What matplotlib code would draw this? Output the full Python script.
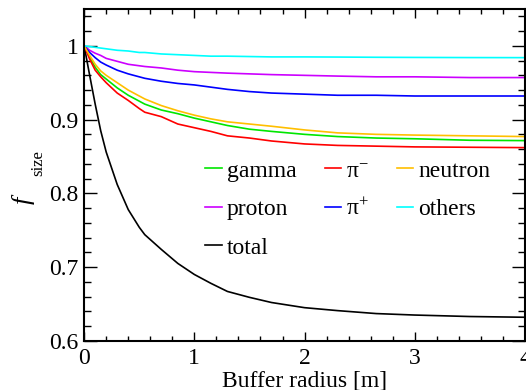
import matplotlib
matplotlib.use('Agg')
from matplotlib import pyplot as plt
from matplotlib.ticker import MultipleLocator

plt.rcParams['font.family'] = 'Liberation Serif'
plt.rcParams['mathtext.fontset'] = 'custom'
plt.rcParams['mathtext.rm'] = 'Liberation Serif'
plt.rcParams['mathtext.it'] = 'Liberation Serif:italic'

radius = [0, 0.05, 0.1, 0.15, 0.2, 0.3, 0.4, 0.5, 0.55, 0.7, 0.85, 1.0, 1.15,
          1.3, 1.5, 1.7, 2.0, 2.3, 2.65, 3.0, 3.5, 4.0]

gamma = [1.0, 0.985, 0.971, 0.961, 0.955, 0.943, 0.933, 0.925, 0.921, 0.913, 0.908,
         0.902, 0.897, 0.892, 0.887, 0.884, 0.880, 0.877, 0.875, 0.874, 0.872, 0.8715]
pi_minus = [1.0, 0.982, 0.967, 0.958, 0.950, 0.936, 0.926, 0.915, 0.910, 0.904, 0.894,
            0.889, 0.884, 0.878, 0.875, 0.871, 0.867, 0.865, 0.864, 0.863, 0.8625, 0.862]
neutron = [1.0, 0.987, 0.975, 0.966, 0.960, 0.950, 0.940, 0.932, 0.928, 0.919, 0.912,
           0.906, 0.901, 0.897, 0.894, 0.891, 0.886, 0.882, 0.880, 0.879, 0.878, 0.877]
proton = [1.0, 0.994, 0.990, 0.987, 0.983, 0.979, 0.975, 0.973, 0.972, 0.970, 0.967,
          0.965, 0.964, 0.963, 0.962, 0.961, 0.960, 0.959, 0.958, 0.958, 0.957, 0.957]
pi_plus = [1.0, 0.991, 0.984, 0.978, 0.974, 0.967, 0.962, 0.958, 0.956, 0.952, 0.949,
           0.947, 0.944, 0.941, 0.938, 0.936, 0.9345, 0.933, 0.933, 0.932, 0.932, 0.932]
others = [1.0, 0.999, 0.998, 0.997, 0.996, 0.994, 0.993, 0.991, 0.991, 0.989, 0.988,
          0.987, 0.986, 0.986, 0.9855, 0.985, 0.985, 0.9848, 0.9845, 0.9843, 0.9841, 0.984]
total = [1.0, 0.960, 0.921, 0.885, 0.856, 0.812, 0.778, 0.754, 0.744, 0.724, 0.705,
         0.690, 0.678, 0.667, 0.659, 0.652, 0.645, 0.641, 0.637, 0.635, 0.633, 0.632]

fig = plt.figure(figsize=(5.26, 3.9), dpi=100)
ax = fig.add_axes([0.16, 0.126, 0.838, 0.851])

lw = 1.2
ax.plot(radius, gamma, color='#00e600', lw=lw, label='gamma')
ax.plot(radius, proton, color='#cc00ff', lw=lw, label='proton')
ax.plot(radius, total, color='black', lw=lw, label='total')
ax.plot(radius, pi_minus, color='#ff0000', lw=lw, label='π$^{-}$')
ax.plot(radius, pi_plus, color='#0000ff', lw=lw, label='π$^{+}$')
ax.plot(radius, neutron, color='#ffbf00', lw=lw, label='neutron')
ax.plot(radius, others, color='#00ffff', lw=lw, label='others')

ax.set_xlim(0, 4)
ax.set_ylim(0.6, 1.05)
ax.xaxis.set_minor_locator(MultipleLocator(0.2))
ax.yaxis.set_minor_locator(MultipleLocator(0.02))
ax.set_xticks([0, 1, 2, 3, 4], ['0', '1', '2', '3', '4'])
ax.set_yticks([0.6, 0.7, 0.8, 0.9, 1.0], ['0.6', '0.7', '0.8', '0.9', '1'])

ax.tick_params(axis='both', which='both', direction='in', top=True, right=True,
               labelsize=17, width=1.0, colors='black')
ax.tick_params(axis='x', which='major', length=6.5, pad=5)
ax.tick_params(axis='x', which='minor', length=3.6)
ax.tick_params(axis='y', which='major', length=9.5, pad=4)
ax.tick_params(axis='y', which='minor', length=5)
for s in ax.spines.values():
    s.set_linewidth(1.5)

ax.set_xlabel('Buffer radius [m]', fontsize=17, labelpad=1)
fig.text(0.044, 0.49, '$f$', fontsize=19, rotation=90, ha='center', va='center')
fig.text(0.073, 0.582, 'size', fontsize=12, rotation=90, ha='center', va='center')

ax.legend(loc='upper left', bbox_to_anchor=(0.275, 0.545), ncol=3, frameon=False,
          fontsize=17, handlelength=0.7, handletextpad=0.2, columnspacing=1.2,
          labelspacing=0.72, borderpad=0, borderaxespad=0)

fig.savefig('out.png', dpi=100)
